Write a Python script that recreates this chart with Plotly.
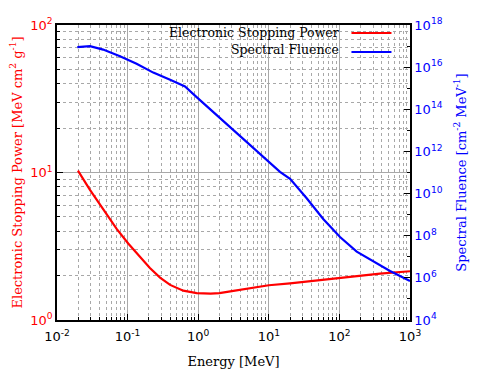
import plotly.graph_objects as go

# Electronic stopping power (left axis)
sp_energy = [0.0198, 0.0293, 0.0453, 0.070, 0.102, 0.150, 0.207, 0.288, 0.40, 0.615, 0.95, 1.5, 2.0, 3.0, 5.0, 10.0, 20.0, 50.0, 102.0, 200.0, 376.0, 1000.0]
sp_values = [10.3, 7.63, 5.63, 4.15, 3.30, 2.69, 2.25, 1.94, 1.73, 1.58, 1.52, 1.51, 1.52, 1.57, 1.64, 1.72, 1.77, 1.86, 1.94, 2.00, 2.06, 2.14]

# Spectral fluence (right axis)
fl_energy = [0.0194, 0.0293, 0.045, 0.078, 0.134, 0.231, 0.40, 0.65, 0.95, 1.55, 2.04, 3.91, 7.5, 14.4, 20.0, 34.4, 59.0, 102.0, 176.0, 302.0, 521.0, 1000.0]
fl_values = [8.9e16, 9.9e16, 6.8e16, 3.3e16, 1.45e16, 5.5e15, 2.5e15, 1.2e15, 3.8e14, 8.7e13, 3.6e13, 5.4e12, 7.6e11, 1.07e11, 5.0e10, 6.0e9, 6.2e8, 8.7e7, 1.76e7, 6.0e6, 2.1e6, 7.1e5]

x_tickvals = [0.01, 0.1, 1, 10, 100, 1000]
x_ticktext = ["10<sup>-2</sup>", "10<sup>-1</sup>", "10<sup>0</sup>", "10<sup>1</sup>", "10<sup>2</sup>", "10<sup>3</sup>"]
y1_tickvals = [1, 10, 100]
y1_ticktext = ["10<sup>0</sup>", "10<sup>1</sup>", "10<sup>2</sup>"]
y2_tickvals = [1e4, 1e6, 1e8, 1e10, 1e12, 1e14, 1e16, 1e18]
y2_ticktext = ["10<sup>%d</sup>" % p for p in [4, 6, 8, 10, 12, 14, 16, 18]]

legend_names = ["Electronic Stopping Power", "Spectral Fluence"]

SERIF = "DejaVu Serif"
SANS = "DejaVu Sans"
GRID_MAJ = "#a8a8a8"
GRID_MIN = "#a8a8a8"

fig = go.Figure()
fig.add_trace(go.Scatter(x=sp_energy, y=sp_values, mode="lines", name=" ",
                         line=dict(color="#ff0000", width=2.2), yaxis="y"))
fig.add_trace(go.Scatter(x=fl_energy, y=fl_values, mode="lines", name=" ",
                         line=dict(color="#0000ff", width=2.2), yaxis="y2"))

for i, txt in enumerate(legend_names):
    fig.add_annotation(text=txt, xref="paper", yref="paper", x=0.805, y=1 - 0.027 - i * 0.057,
                       xanchor="right", yanchor="middle", showarrow=False,
                       font=dict(family=SERIF, size=12.5, color="black"))

fig.update_layout(
    width=500, height=375,
    margin=dict(l=49, r=98, t=10, b=63),
    paper_bgcolor="white", plot_bgcolor="white",
    showlegend=True,
    legend=dict(x=0.82, y=1.022, xanchor="left", yanchor="top", bgcolor="rgba(0,0,0,0)",
                font=dict(family=SERIF, size=9), itemwidth=40, tracegroupgap=0,
                itemclick=False),
    xaxis=dict(type="log", range=[-2, 3], tickvals=x_tickvals, ticktext=x_ticktext,
               tickfont=dict(family=SANS, size=13, color="black"), automargin=False,
               ticklabelstandoff=4,
               title=dict(text="Energy [MeV]", font=dict(family=SERIF, size=13, color="black"), standoff=14),
               showline=True, linecolor="black", linewidth=1.5, mirror=True,
               ticks="inside", ticklen=6, tickcolor="black",
               showgrid=True, gridcolor=GRID_MAJ, gridwidth=1,
               minor=dict(dtick="D1", ticks="inside", ticklen=3, tickcolor="black",
                          showgrid=True, gridcolor=GRID_MIN, griddash="3px,3px", gridwidth=1),
               zeroline=False),
    yaxis=dict(type="log", range=[0, 2], tickvals=y1_tickvals, ticktext=y1_ticktext,
               tickfont=dict(family=SANS, size=13, color="#ff0000"), automargin=False,
               title=dict(text="Electronic Stopping Power [MeV cm<sup>2</sup> g<sup>-1</sup>]",
                          font=dict(family=SERIF, size=13, color="#ff0000"), standoff=5),
               showline=True, linecolor="black", linewidth=1.5,
               ticks="inside", ticklen=6, tickcolor="black",
               showgrid=True, gridcolor=GRID_MAJ, gridwidth=1,
               minor=dict(dtick="D1", ticks="inside", ticklen=3, tickcolor="black",
                          showgrid=True, gridcolor=GRID_MIN, griddash="3px,3px", gridwidth=1),
               zeroline=False),
    yaxis2=dict(type="log", range=[4, 18], overlaying="y", side="right",
                tickvals=y2_tickvals, ticktext=y2_ticktext, automargin=False,
                tickfont=dict(family=SANS, size=13, color="#0000ff"),
                title=dict(text="Spectral Fluence [cm<sup>-2</sup> MeV<sup>-1</sup>]",
                           font=dict(family=SERIF, size=13, color="#0000ff"), standoff=15),
                showline=True, linecolor="black", linewidth=1.5,
                ticks="inside", ticklen=6, tickcolor="black",
                showgrid=False,
                minor=dict(dtick=1, ticks="inside", ticklen=3, tickcolor="black", showgrid=False),
                zeroline=False),
)

fig.write_html("out.html")
